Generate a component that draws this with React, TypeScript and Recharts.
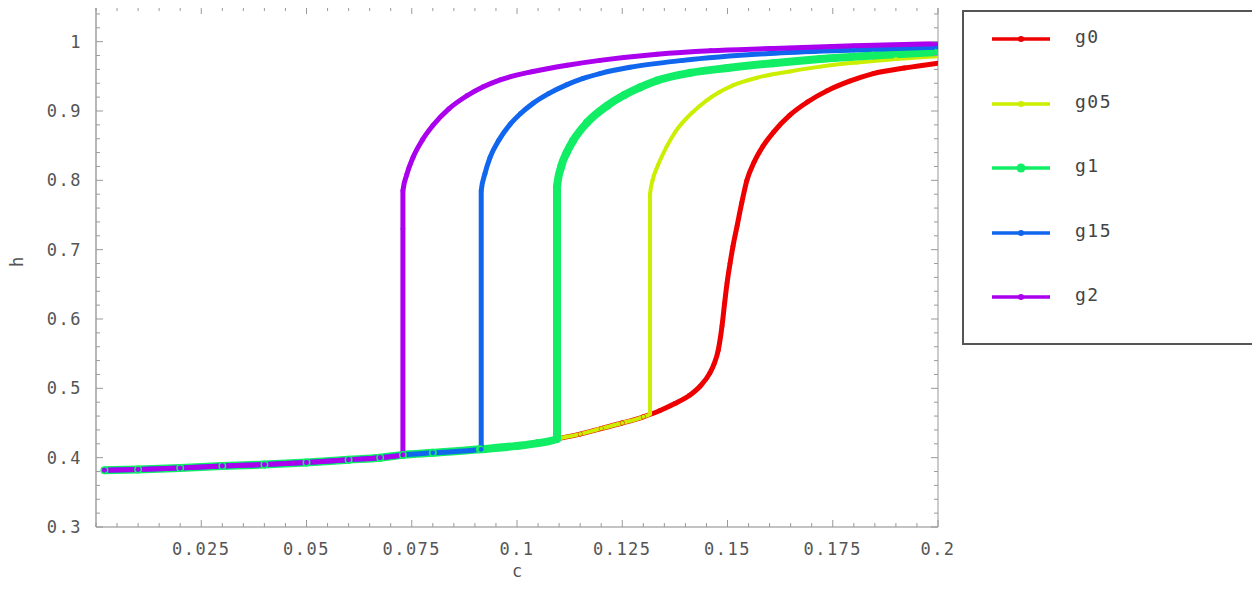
import React from "react";
import { LineChart, Line, XAxis, YAxis, Legend } from "recharts";

// ---- data ----
const g0C = [0.002, 0.01, 0.02, 0.03, 0.04, 0.05, 0.06, 0.0675, 0.0729, 0.08, 0.0912, 0.1, 0.105, 0.1093, 0.115, 0.12, 0.125, 0.13, 0.134, 0.1375, 0.141, 0.1435, 0.1458, 0.1468, 0.1478, 0.1487, 0.1493, 0.1499, 0.1506, 0.1513, 0.1523, 0.1534, 0.1546, 0.1563, 0.1584, 0.161, 0.1648, 0.169, 0.1736, 0.179, 0.1846, 0.192, 0.2];
const g0H = [0.382, 0.383, 0.385, 0.388, 0.39, 0.393, 0.397, 0.4, 0.404, 0.407, 0.412, 0.417, 0.421, 0.427, 0.434, 0.442, 0.45, 0.459, 0.468, 0.478, 0.49, 0.503, 0.522, 0.535, 0.555, 0.59, 0.622, 0.652, 0.68, 0.705, 0.735, 0.768, 0.8, 0.826, 0.849, 0.87, 0.894, 0.913, 0.929, 0.943, 0.954, 0.962, 0.969];

const g05C = [0.002, 0.01, 0.02, 0.03, 0.04, 0.05, 0.06, 0.0675, 0.0729, 0.08, 0.0912, 0.1, 0.105, 0.1093, 0.115, 0.12, 0.125, 0.13, 0.1316, 0.1316, 0.1316, 0.1322, 0.1335, 0.1355, 0.1375, 0.1415, 0.145, 0.148, 0.1513, 0.157, 0.1648, 0.172, 0.1808, 0.19, 0.2];
const g05H = [0.382, 0.383, 0.385, 0.388, 0.39, 0.393, 0.397, 0.4, 0.404, 0.407, 0.412, 0.417, 0.421, 0.427, 0.434, 0.442, 0.45, 0.459, 0.463, 0.73, 0.78, 0.8, 0.822, 0.848, 0.869, 0.897, 0.915, 0.927, 0.937, 0.948, 0.957, 0.964, 0.97, 0.975, 0.979];

const g1C = [0.002, 0.01, 0.02, 0.03, 0.04, 0.05, 0.06, 0.0675, 0.0729, 0.08, 0.0912, 0.1, 0.105, 0.1095, 0.1095, 0.1105, 0.1118, 0.1133, 0.1166, 0.1215, 0.1255, 0.1292, 0.1333, 0.1411, 0.15, 0.1608, 0.172, 0.1846, 0.2];
const g1H = [0.382, 0.383, 0.385, 0.388, 0.39, 0.393, 0.397, 0.4, 0.404, 0.407, 0.412, 0.417, 0.421, 0.427, 0.79, 0.82, 0.84, 0.857, 0.883, 0.908, 0.923, 0.934, 0.944, 0.955, 0.962, 0.969, 0.975, 0.98, 0.985];

const g15C = [0.002, 0.01, 0.02, 0.03, 0.04, 0.05, 0.06, 0.0675, 0.0729, 0.08, 0.0915, 0.0915, 0.0924, 0.0936, 0.0957, 0.0984, 0.1008, 0.1038, 0.1075, 0.1119, 0.1157, 0.1197, 0.1268, 0.1394, 0.16, 0.18, 0.2];
const g15H = [0.382, 0.383, 0.385, 0.388, 0.39, 0.393, 0.397, 0.4, 0.404, 0.407, 0.412, 0.785, 0.81, 0.833, 0.858, 0.881, 0.896, 0.911, 0.925, 0.938, 0.947, 0.954, 0.963, 0.973, 0.983, 0.988, 0.992];

const g2C = [0.002, 0.01, 0.02, 0.03, 0.04, 0.05, 0.06, 0.0675, 0.0729, 0.0729, 0.0729, 0.0738, 0.0753, 0.0775, 0.08, 0.0838, 0.0881, 0.092, 0.096, 0.1038, 0.1119, 0.1197, 0.1333, 0.146, 0.16, 0.18, 0.2];
const g2H = [0.382, 0.383, 0.385, 0.388, 0.39, 0.393, 0.397, 0.4, 0.404, 0.73, 0.785, 0.808, 0.833, 0.858, 0.879, 0.903, 0.922, 0.935, 0.945, 0.957, 0.966, 0.973, 0.982, 0.987, 0.99, 0.994, 0.997];

const seriesNames = ["g0", "g05", "g1", "g15", "g2"];
const seriesColors = ["#ee0000", "#ccee00", "#11ee66", "#1166ee", "#aa00ee"];
const seriesC = [g0C, g05C, g1C, g15C, g2C];
const seriesH = [g0H, g05H, g1H, g15H, g2H];
const seriesWidth = [5, 4, 8, 5, 5];
const seriesDotR = [2.4, 2, 4, 2.4, 2.4];

const xTickLabels = [0.025, 0.05, 0.075, 0.1, 0.125, 0.15, 0.175, 0.2];
const yTickLabels = [0.3, 0.4, 0.5, 0.6, 0.7, 0.8, 0.9, 1];

const xTicks = Array.from({ length: 41 }, (_, i) => +(0.005 * i).toFixed(3));
const yTicks = Array.from({ length: 38 }, (_, i) => +(0.3 + 0.02 * i).toFixed(2));

const FONT = "DejaVu Sans Mono";
const TXT = "#555";
const TICK = "#9a9a9a";
const MARGIN = 14;

const isMajor = (v: number, list: number[]) => list.some((m) => Math.abs(m - v) < 1e-9);

const fmt = (v: number) => (v === 1 ? "1" : String(v));

function LeftTick(props: any) {
  const { x, y, payload } = props;
  const ax = x + MARGIN;
  const major = isMajor(payload.value, yTickLabels);
  return (
    <g>
      <line x1={ax} x2={ax + (major ? 7 : 4)} y1={y} y2={y} stroke={TICK} strokeWidth={1} />
      {major && (
        <text x={x} y={y} dy={6} textAnchor="end" fontFamily={FONT} fontSize={17} letterSpacing={1.5} fill={TXT}>
          {fmt(payload.value)}
        </text>
      )}
    </g>
  );
}
function RightTick(props: any) {
  const { x, y, payload } = props;
  const ax = x - MARGIN;
  const major = isMajor(payload.value, yTickLabels);
  return <line x1={ax} x2={ax - (major ? 7 : 4)} y1={y} y2={y} stroke={TICK} strokeWidth={1} />;
}
function BottomTick(props: any) {
  const { x, y, payload } = props;
  const ay = y - MARGIN;
  const major = isMajor(payload.value, xTickLabels);
  return (
    <g>
      <line x1={x} x2={x} y1={ay} y2={ay - (major ? 7 : 4)} stroke={TICK} strokeWidth={1} />
      {major && (
        <text x={x} y={y} dy={14} textAnchor="middle" fontFamily={FONT} fontSize={17} letterSpacing={1.5} fill={TXT}>
          {fmt(payload.value)}
        </text>
      )}
    </g>
  );
}
function TopTick(props: any) {
  const { x, y, payload } = props;
  const ay = y + MARGIN;
  const major = isMajor(payload.value, xTickLabels);
  return <line x1={x} x2={x} y1={ay} y2={ay + (major ? 7 : 4)} stroke={TICK} strokeWidth={1} />;
}

function LegendBox() {
  return (
    <div
      style={{
        width: 289,
        height: 331,
        border: "2px solid #555",
        background: "#fff",
        position: "relative",
        boxSizing: "content-box",
      }}
    >
      {seriesNames.map((n, i) => (
        <div key={n} style={{ position: "absolute", left: 0, top: 37 - 10 + 64.6 * i - 12, height: 24, width: 280 }}>
          <svg width={90} height={24} style={{ position: "absolute", left: 24, top: 0 }}>
            <line x1={4} x2={62} y1={12} y2={12} stroke={seriesColors[i]} strokeWidth={3.5} />
            <circle cx={33} cy={12} r={i === 2 ? 4.5 : 3} fill={seriesColors[i]} />
          </svg>
          <span
            style={{
              position: "absolute",
              left: 111,
              top: 0,
              fontFamily: FONT,
              fontSize: 18,
              letterSpacing: 1.5,
              color: "#444",
              lineHeight: "20px",
            }}
          >
            {n}
          </span>
        </div>
      ))}
    </div>
  );
}

export default function App() {
  return (
    <div style={{ marginLeft: -8, marginTop: -8, width: 1260, height: 589, background: "#fff" }}>
      <LineChart width={1260} height={589} margin={{ top: 6, right: 321, bottom: 1, left: 0 }}>
        <XAxis
          xAxisId={0}
          type="number"
          dataKey="c"
          domain={[0, 0.2]}
          ticks={xTicks}
          interval={0}
          allowDataOverflow
          height={61}
          tickSize={0}
          tickMargin={MARGIN}
          tick={<BottomTick />}
          axisLine={{ stroke: "#888", strokeWidth: 1.2 }}
          tickLine={false}
          label={{ value: "c", position: "insideBottom", offset: 11, fontFamily: FONT, fontSize: 17, fill: TXT }}
        />
        <XAxis
          xAxisId="top"
          orientation="top"
          type="number"
          dataKey="c"
          domain={[0, 0.2]}
          ticks={xTicks}
          interval={0}
          allowDataOverflow
          height={1}
          tickSize={0}
          tickMargin={MARGIN}
          tick={<TopTick />}
          axisLine={{ stroke: "#aaa", strokeWidth: 1.2 }}
          tickLine={false}
        />
        <YAxis
          yAxisId={0}
          type="number"
          domain={[0.3, 1.05]}
          ticks={yTicks}
          interval={0}
          allowDataOverflow
          width={96}
          tickSize={0}
          tickMargin={MARGIN}
          tick={<LeftTick />}
          axisLine={{ stroke: "#888", strokeWidth: 1.2 }}
          tickLine={false}
          label={{ value: "h", angle: -90, position: "insideLeft", offset: 17, fontFamily: FONT, fontSize: 17, fill: TXT }}
        />
        <YAxis
          yAxisId="right"
          orientation="right"
          type="number"
          domain={[0.3, 1.05]}
          ticks={yTicks}
          interval={0}
          allowDataOverflow
          width={1}
          tickSize={0}
          tickMargin={MARGIN}
          tick={<RightTick />}
          axisLine={{ stroke: "#aaa", strokeWidth: 1.2 }}
          tickLine={false}
        />
        <Legend
          layout="vertical"
          align="center"
          verticalAlign="middle"
          content={() => <LegendBox />}
          wrapperStyle={{ position: "absolute", left: 962, top: 10, width: 293, height: 335 }}
        />
        {seriesNames.map((n, i) => (
          <Line
            key={n}
            name={n}
            xAxisId={0}
            yAxisId={0}
            data={seriesC[i].map((c, k) => ({ c, h: seriesH[i][k] }))}
            dataKey="h"
            type="monotone"
            stroke={seriesColors[i]}
            strokeWidth={seriesWidth[i]}
            strokeLinejoin="round"
            dot={{ r: seriesDotR[i], fill: seriesColors[i], stroke: "none" }}
            isAnimationActive={false}
          />
        ))}
      </LineChart>
    </div>
  );
}
